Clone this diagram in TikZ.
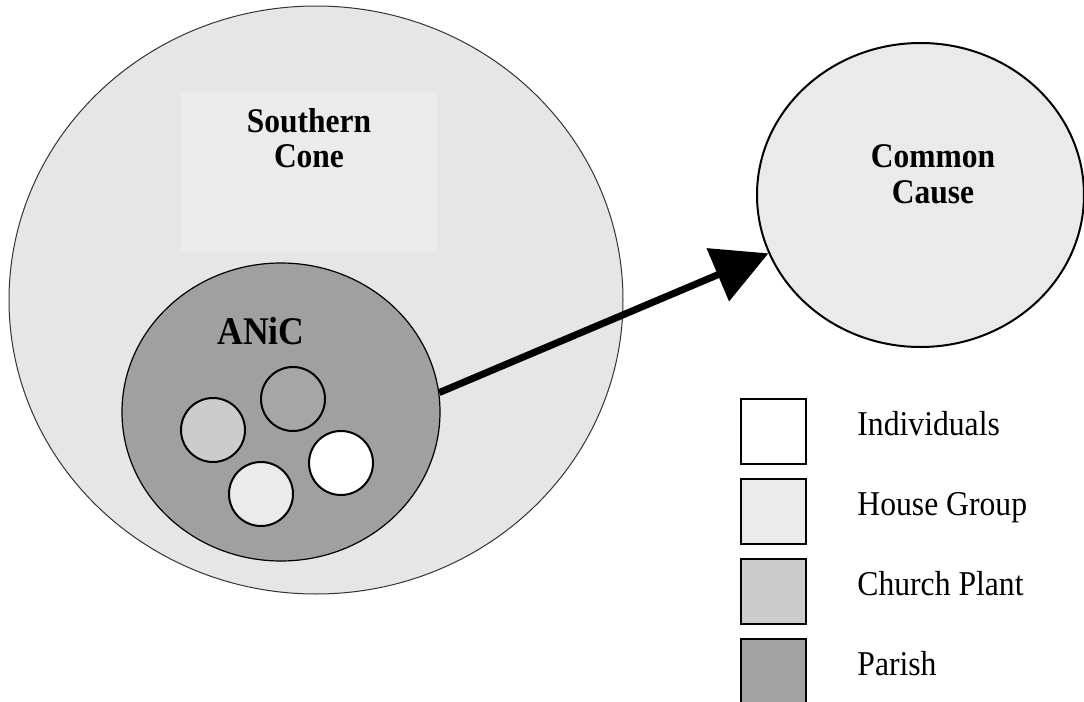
\documentclass[tikz,border=0pt]{standalone}
\usepackage{fontspec}
\setmainfont{Liberation Serif}[FakeStretch=0.91]
\usetikzlibrary{shapes.geometric,arrows.meta,positioning}
\definecolor{conegrey}{gray}{0.902}
\definecolor{boxgrey}{gray}{0.922}
\definecolor{causegrey}{gray}{0.918}
\definecolor{housegrey}{gray}{0.922}
\definecolor{plantgrey}{gray}{0.8}
\definecolor{parishgrey}{gray}{0.627}
\definecolor{parishlight}{gray}{0.65}
\definecolor{parishkey}{gray}{0.64}
\begin{document}
\begin{tikzpicture}[x=0.5pt, y=-0.5pt,
        blob/.style={draw, ellipse, inner sep=0pt},
        cell/.style={draw, circle, line width=1pt, minimum size=32pt, inner sep=0pt},
        key/.style={draw, rectangle, line width=1pt, minimum size=32.5pt, inner sep=0pt, outer sep=0pt},
        keytext/.style={font=\fontsize{17.4}{20}\selectfont, inner sep=0pt},
        title/.style={font=\bfseries\fontsize{17.3}{17.8}\selectfont, align=center, inner sep=0pt}]
    %\draw[lightgray] (0, 0) grid[step=50] (1084, 702);
    \useasboundingbox (0, 0) rectangle (1084, 702);
    \node[blob, fill=conegrey, draw=black!80, line width=0.5pt, minimum width=307pt, minimum height=294pt] (cone) at (316, 300) {};
    \node[fill=boxgrey, minimum width=128pt, minimum height=80pt, inner sep=0pt] (conebox) at (309, 172) {};
    \node[title, below=8pt of conebox.north] (conetext) {Southern\\Cone};
    \node[blob, fill=parishgrey, line width=0.6pt, minimum width=159pt, minimum height=149pt] (anic) at (281, 412) {};
    \node[font=\bfseries\fontsize{19.6}{22}\selectfont, inner sep=0pt] (anictext) at (261, 331) {ANiC};
    \node[cell, fill=plantgrey] (plant) at (213, 430) {};
    \node[cell, fill=parishlight] (parish) at (293, 399) {};
    \node[cell, fill=white] (person) at (341, 463) {};
    \node[cell, fill=housegrey] (house) at (261, 494) {};
    \node[blob, fill=causegrey, line width=1pt, minimum width=163.5pt, minimum height=152pt] (cause) at (920.5, 195) {};
    \node[title] (causetext) at (933, 174) {Common\\Cause};
    \draw[line width=3.5pt, -{Triangle[length=27.5pt, width=28pt]}] (anic.7) -- (cause.201);
    % legend
    \node[key, fill=white] (lind) at (773.5, 431) {};
    \node[key, fill=housegrey, below=7.5pt of lind] (lhouse) {};
    \node[key, fill=plantgrey, below=7.5pt of lhouse] (lplant) {};
    \node[key, fill=parishkey, below=7.5pt of lplant] (lparish) {};
    \node[keytext, right=25.5pt of lind, anchor=mid west] (tind) {Individuals};
    \node[keytext, right=25.5pt of lhouse, anchor=mid west] (thouse) {House Group};
    \node[keytext, right=25.5pt of lplant, anchor=mid west] (tplant) {Church Plant};
    \node[keytext, right=25.5pt of lparish, anchor=mid west] (tparish) {Parish};
\end{tikzpicture}
\end{document}
